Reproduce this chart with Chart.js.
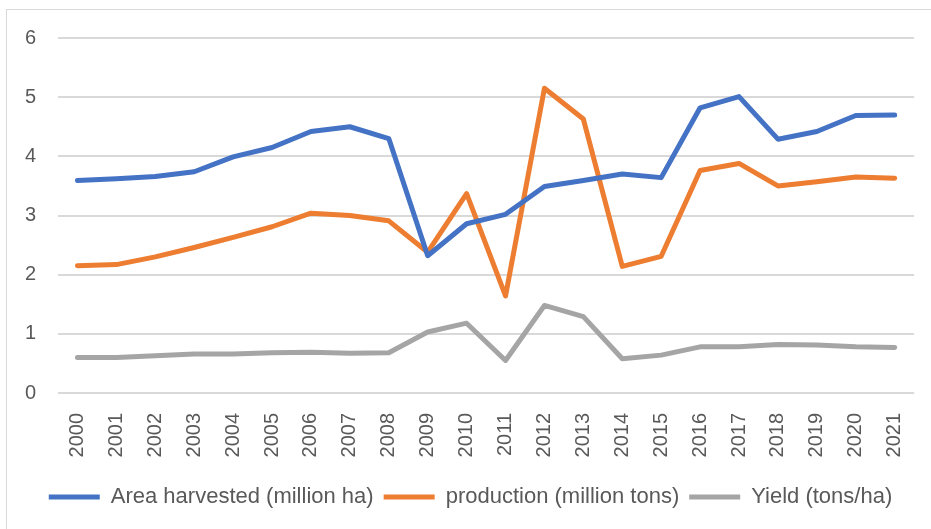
<!DOCTYPE html>
<html>
<head>
<meta charset="utf-8">
<script src="https://cdn.jsdelivr.net/npm/chart.js@4.4.1/dist/chart.umd.min.js"></script>
<style>
  html, body { margin: 0; padding: 0; background: #fff; }
  .wrap { position: relative; width: 931px; height: 529px; overflow: hidden; }
  .frame { position: absolute; left: 6px; top: 9px; width: 960px; height: 560px; border: 1.5px solid #d9d9d9; }
  #chart { position: absolute; left: 0; top: 0; }
</style>
</head>
<body>
<div class="wrap">
  <div class="frame"></div>
  <canvas id="chart" width="931" height="529"></canvas>
</div>
<script>
const years = ['2000', '2001', '2002', '2003', '2004', '2005', '2006', '2007', '2008', '2009', '2010',
  '2011', '2012', '2013', '2014', '2015', '2016', '2017', '2018', '2019', '2020', '2021'];

const areaHarvested = [3.59, 3.62, 3.66, 3.74, 3.99, 4.15, 4.42, 4.50, 4.30, 2.32, 2.86,
  3.02, 3.49, 3.59, 3.70, 3.64, 4.82, 5.01, 4.29, 4.42, 4.69, 4.70];
const production = [2.15, 2.17, 2.30, 2.46, 2.63, 2.81, 3.04, 3.00, 2.91, 2.38, 3.37,
  1.64, 5.15, 4.63, 2.14, 2.31, 3.76, 3.88, 3.50, 3.57, 3.65, 3.63];
const yieldPerHa = [0.60, 0.60, 0.63, 0.66, 0.66, 0.68, 0.69, 0.67, 0.68, 1.03, 1.18,
  0.55, 1.48, 1.29, 0.58, 0.64, 0.78, 0.78, 0.82, 0.81, 0.78, 0.77];

const yTicks = [0, 1, 2, 3, 4, 5, 6];

const font = "'Liberation Sans', Arial, sans-serif";

const makeSet = (label, data, color) => ({
  label,
  data,
  borderColor: color,
  backgroundColor: color,
  borderWidth: 5,
  borderCapStyle: 'round',
  borderJoinStyle: 'round',
  pointRadius: 0,
  tension: 0,
});

new Chart(document.getElementById('chart'), {
  type: 'line',
  data: {
    labels: years,
    datasets: [
      makeSet('Area harvested (million ha)', areaHarvested, '#4472c4'),
      makeSet('production (million tons)', production, '#ed7d31'),
      makeSet('Yield (tons/ha)', yieldPerHa, '#a5a5a5'),
    ],
  },
  options: {
    responsive: false,
    animation: false,
    // left padding nudges the legend right; y axis width keeps the plot at x=58
    layout: { padding: { top: 38, right: 14, bottom: 11, left: 24 } },
    plugins: {
      tooltip: { enabled: false },
      legend: {
        position: 'bottom',
        labels: {
          usePointStyle: true,
          pointStyle: 'line',
          pointStyleWidth: 51,
          padding: 10,
          color: '#595959',
          font: { family: font, size: 22 },
        },
      },
    },
    scales: {
      x: {
        offset: true,
        grid: { display: false },
        border: { display: false },
        ticks: {
          minRotation: 90,
          maxRotation: 90,
          autoSkip: false,
          padding: 12,
          color: '#595959',
          font: { family: font, size: 20 },
        },
        afterFit: (scale) => { scale.height = 83; },
      },
      y: {
        min: 0,
        max: 6,
        afterBuildTicks: (scale) => { scale.ticks = yTicks.map(v => ({ value: v })); },
        grid: { color: '#d9d9d9', lineWidth: 2, drawTicks: false },
        border: { display: false },
        ticks: {
          padding: 22,
          color: '#595959',
          font: { family: font, size: 20 },
        },
        afterFit: (scale) => { scale.width = 34; },
      },
    },
  },
});
</script>
</body>
</html>
